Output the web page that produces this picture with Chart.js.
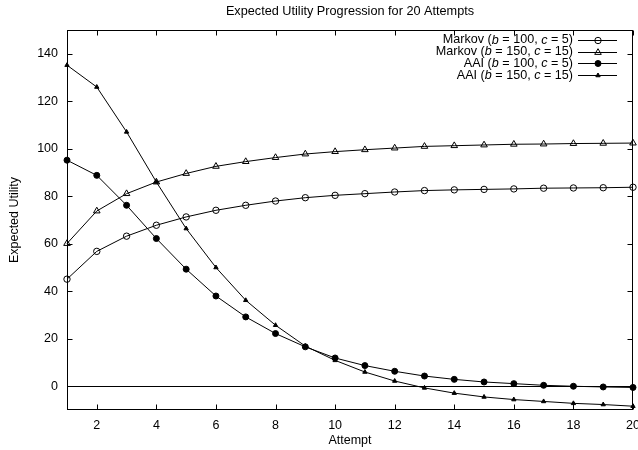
<!DOCTYPE html>
<html>
<head>
<meta charset="utf-8">
<script src="https://cdn.jsdelivr.net/npm/chart.js@4"></script>
<style>
  html, body { margin: 0; padding: 0; background: #fff; }
  #wrap { width: 638px; height: 450px; }
</style>
</head>
<body>
<div id="wrap"><canvas id="chart" width="638" height="450"></canvas></div>
<script>
// values
const attempts = [1, 2, 3, 4, 5, 6, 7, 8, 9, 10, 11, 12, 13, 14, 15, 16, 17, 18, 19, 20];
const markovB100 = [45.1, 56.8, 63.2, 67.8, 71.3, 74.1, 76.2, 78.0, 79.4, 80.4, 81.1, 81.8, 82.4, 82.7, 82.9, 83.1, 83.4, 83.5, 83.6, 83.8];
const markovB150 = [60.1, 73.8, 81.1, 86.0, 89.6, 92.6, 94.6, 96.3, 97.8, 98.8, 99.6, 100.3, 101.0, 101.3, 101.6, 101.9, 102.0, 102.2, 102.3, 102.4];
const aaiB100 = [95.2, 88.8, 76.2, 62.2, 49.3, 38.0, 29.2, 22.2, 16.6, 11.9, 8.7, 6.3, 4.3, 2.9, 1.8, 1.1, 0.4, 0.0, -0.3, -0.5];
const aaiB150 = [135.2, 126.0, 107.1, 86.0, 66.4, 50.0, 36.2, 25.7, 16.9, 10.9, 6.0, 2.2, -0.7, -2.9, -4.5, -5.6, -6.4, -7.2, -7.7, -8.4];

const xTicks = [2, 4, 6, 8, 10, 12, 14, 16, 18, 20];
const yTicks = [0, 20, 40, 60, 80, 100, 120, 140];

// legend labels, [text, italic] pieces
const legendLabels = [
  [["Markov (", false], ["b", true], [" = 100, ", false], ["c", true], [" = 5)", false]],
  [["Markov (", false], ["b", true], [" = 150, ", false], ["c", true], [" = 15)", false]],
  [["AAI (", false], ["b", true], [" = 100, ", false], ["c", true], [" = 5)", false]],
  [["AAI (", false], ["b", true], [" = 150, ", false], ["c", true], [" = 15)", false]]
];

const FONT = "'Liberation Sans', Arial, Helvetica, sans-serif";

function toPoints(arr) {
  return attempts.map((a, i) => ({ x: a, y: arr[i] }));
}

function series(data, style, radius, filled) {
  return {
    data: toPoints(data),
    borderColor: '#000',
    borderWidth: 1,
    pointStyle: style,
    pointRadius: radius,
    pointBorderWidth: 1,
    pointBorderColor: '#000',
    pointBackgroundColor: filled ? '#000' : 'rgba(0,0,0,0)',
    tension: 0,
    clip: false
  };
}

const datasets = [
  series(markovB100, 'circle', 3.2, false),
  series(markovB150, 'triangle', 3.8, false),
  series(aaiB100, 'circle', 3, true),
  series(aaiB150, 'triangle', 2.5, true)
];

// gnuplot-like frame: box, inward ticks on all sides, zero axis
const framePlugin = {
  id: 'frame',
  beforeDatasetsDraw(chart) {
    const { ctx, chartArea: a, scales: { y } } = chart;
    ctx.save();
    ctx.strokeStyle = '#000';
    ctx.lineWidth = 1;
    const y0 = Math.round(y.getPixelForValue(0)) + 0.5;
    ctx.beginPath();
    ctx.moveTo(a.left, y0);
    ctx.lineTo(a.right, y0);
    ctx.stroke();
    ctx.restore();
  },
  afterDraw(chart) {
    const { ctx, chartArea: a, scales: { x, y } } = chart;
    const L = Math.round(a.left) + 0.5, R = Math.round(a.right) - 0.5;
    const T = Math.round(a.top) + 0.5, B = Math.round(a.bottom) - 0.5;
    ctx.save();
    ctx.strokeStyle = '#000';
    ctx.lineWidth = 1;
    ctx.strokeRect(L, T, R - L, B - T);
    ctx.beginPath();
    xTicks.forEach(v => {
      const px = Math.round(x.getPixelForValue(v)) + 0.5;
      ctx.moveTo(px, B); ctx.lineTo(px, B - 5);
      ctx.moveTo(px, T); ctx.lineTo(px, T + 5);
    });
    yTicks.forEach(v => {
      const py = Math.round(y.getPixelForValue(v)) + 0.5;
      ctx.moveTo(L, py); ctx.lineTo(L + 5, py);
      ctx.moveTo(R, py); ctx.lineTo(R - 5, py);
    });
    ctx.stroke();

    // legend
    const textRight = 573, lineL = 578, lineR = 617, mid = 598;
    const lf = '12.6px ' + FONT;
    legendLabels.forEach((parts, i) => {
      const yy = 40 + i * 11.7;
      let w = 0;
      parts.forEach(([t, it]) => {
        ctx.font = (it ? 'italic ' : '') + lf;
        w += ctx.measureText(t).width;
      });
      let xx = textRight - w;
      ctx.fillStyle = '#000';
      ctx.textBaseline = 'middle';
      ctx.textAlign = 'left';
      parts.forEach(([t, it]) => {
        ctx.font = (it ? 'italic ' : '') + lf;
        ctx.fillText(t, xx, yy);
        xx += ctx.measureText(t).width;
      });
      const ly = Math.round(yy) + 0.5;
      ctx.beginPath();
      ctx.moveTo(lineL, ly);
      ctx.lineTo(lineR, ly);
      ctx.stroke();
      const ds = chart.data.datasets[i];
      ctx.fillStyle = ds.pointBackgroundColor;
      ctx.strokeStyle = '#000';
      Chart.helpers.drawPoint(ctx, {
        pointStyle: ds.pointStyle,
        radius: ds.pointRadius,
        rotation: 0,
        borderWidth: 1
      }, mid, ly);
    });
    ctx.restore();
  }
};

new Chart(document.getElementById('chart').getContext('2d'), {
  type: 'line',
  data: { datasets: datasets },
  plugins: [framePlugin],
  options: {
    responsive: false,
    animation: false,
    layout: { padding: { left: 0, right: 5, top: 0, bottom: 0 } },
    plugins: {
      legend: { display: false },
      tooltip: { enabled: false },
      title: {
        display: true,
        text: 'Expected Utility Progression for 20 Attempts',
        color: '#000',
        fullSize: false,
        font: { family: FONT, size: 12.7, weight: 'normal' },
        padding: { top: 4, bottom: 10.8 }
      }
    },
    scales: {
      x: {
        type: 'linear',
        min: 1,
        max: 20,
        afterBuildTicks: s => { s.ticks = xTicks.map(v => ({ value: v })); },
        afterFit: s => { s.height = 40; s.paddingLeft = 0; s.paddingRight = 0; },
        grid: { display: false, drawTicks: false },
        border: { display: false },
        ticks: { color: '#000', padding: 8, maxRotation: 0, autoSkip: false, font: { family: FONT, size: 12.5 } },
        title: { display: true, text: 'Attempt', color: '#000', font: { family: FONT, size: 12.5 }, padding: { top: 0, bottom: 1.5 } }
      },
      y: {
        type: 'linear',
        min: -10,
        max: 150,
        afterBuildTicks: s => { s.ticks = yTicks.map(v => ({ value: v })); },
        afterFit: s => { s.width = 67; s.paddingTop = 0; s.paddingBottom = 0; },
        grid: { display: false, drawTicks: false },
        border: { display: false },
        ticks: { color: '#000', padding: 9, autoSkip: false, font: { family: FONT, size: 12.5 } },
        title: { display: true, text: 'Expected Utility', color: '#000', font: { family: FONT, size: 12.5 }, padding: { top: 7, bottom: 0 } }
      }
    }
  }
});
</script>
</body>
</html>
